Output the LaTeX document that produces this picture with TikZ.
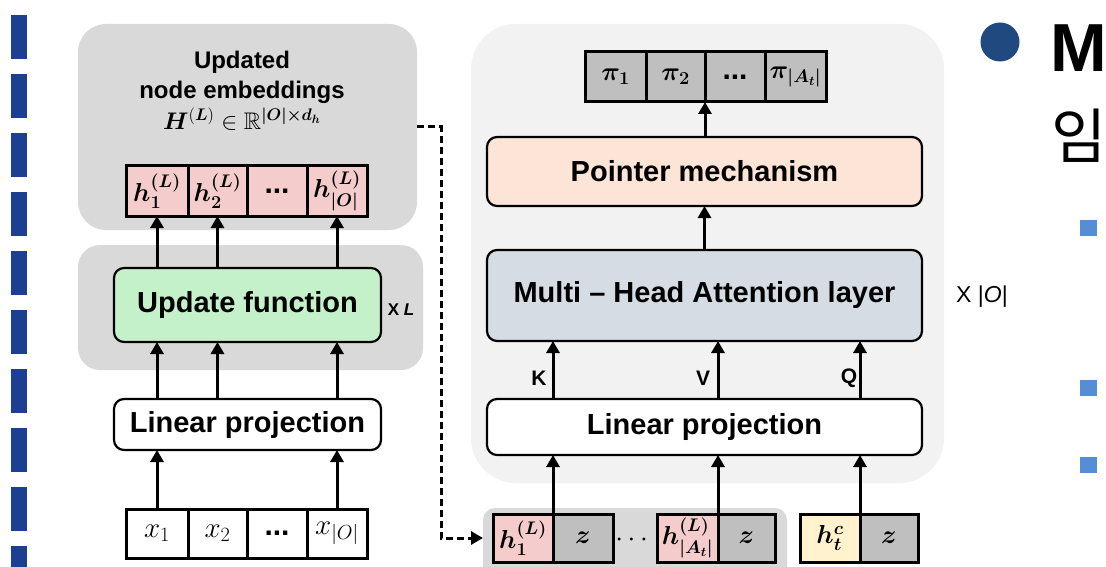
\RequirePackage{fix-cm}
\documentclass[tikz,border=0pt]{standalone}
\usepackage{amsmath,amssymb,bm}
\usepackage[no-math]{fontspec}
\setmainfont{Liberation Sans}
\newfontfamily\krfont{Noto Sans CJK KR}
\usetikzlibrary{arrows.meta}
\definecolor{panelgray}{HTML}{D9D9D9}
\definecolor{panellight}{HTML}{F2F2F2}
\definecolor{cellpink}{HTML}{F4CCCC}
\definecolor{cellgray}{HTML}{BFBFBF}
\definecolor{cellcream}{HTML}{FFF2CC}
\definecolor{ufgreen}{HTML}{C4F0CA}
\definecolor{pmorange}{HTML}{FCE4D6}
\definecolor{mhablue}{HTML}{D6DCE4}
\definecolor{dashblue}{HTML}{1C3F94}
\definecolor{dotblue}{HTML}{204A7F}
\definecolor{sqblue}{HTML}{558ED5}
\tikzset{
  panel/.style={fill=panelgray, draw=none, inner sep=0pt, outer sep=0pt},
  cellbox/.style={draw=black, line width=3pt, inner sep=0pt, outer sep=0pt,
    font=\fontsize{26}{30}\selectfont},
  procbox/.style={draw=black, line width=2.2pt, rounded corners=10pt, inner sep=0pt,
    outer sep=0pt, font=\fontsize{29}{34}\selectfont\bfseries},
  arr/.style={line width=3pt, -{Triangle[length=12pt,width=13pt]}},
  dasharr/.style={line width=3pt, dash pattern=on 7pt off 4pt,
    -{Triangle[length=12pt,width=13pt]}},
  kvq/.style={font=\fontsize{21}{24}\selectfont\bfseries, inner sep=0pt},
}
\begin{document}
\begin{tikzpicture}[x=1pt,y=-1pt]
\useasboundingbox (0,0) rectangle (1106,567);
\clip (0,0) rectangle (1106,567);
\fill[white] (0,0) rectangle (1106,567);
% slide decorations
\foreach \k in {0,...,10} \fill[dashblue] (11,{-44+59*\k}) rectangle (27,{59*\k});
\fill[dotblue] (1000,42) circle[radius=19.5pt];
\node[anchor=base west, inner sep=0pt] (mtitle) at (1050,72) {\fontsize{68}{70}\selectfont\bfseries M};
\node[anchor=base west, inner sep=0pt] (krtitle) at (1051,159) {\krfont\fontsize{60}{64}\selectfont 임};
\fill[sqblue] (1080,220) rectangle (1097,236);
\fill[sqblue] (1080,380) rectangle (1097,396);
\fill[sqblue] (1080,457) rectangle (1097,473);

% ---------------- left part
\node[panel, rounded corners=28pt, minimum width=339pt, minimum height=206pt] (emb) at (247.5,127) {};
\node[panel, rounded corners=22pt, minimum width=345pt, minimum height=125pt] (ufpanel) at (250.5,307.5) {};
\node[align=center, font=\fontsize{24}{30}\selectfont\bfseries, inner sep=0pt] (embtitle) at (242,77) {Updated\\node embeddings};
\node[inner sep=0pt, font=\fontsize{24}{28}\selectfont] (hmath) at (242,119)
  {$\bm{H}^{(\bm{L})} \in \mathbb{R}^{\bm{|O|\times d_h}}$};
\node[cellbox, fill=cellpink, minimum width=62pt, minimum height=50pt] (h1) at (157,191) {$\bm{h_1^{(L)}}$};
\node[cellbox, fill=cellpink, minimum width=59pt, minimum height=50pt] (h2) at (217.5,191) {$\bm{h_2^{(L)}}$};
\node[cellbox, fill=cellpink, minimum width=60pt, minimum height=50pt] (h3) at (277,191) {\fontsize{30}{30}\selectfont\bfseries ...};
\node[cellbox, fill=cellpink, minimum width=60pt, minimum height=50pt] (h4) at (337,191) {$\bm{h_{|O|}^{(L)}}$};
\node[procbox, fill=ufgreen, minimum width=267pt, minimum height=74pt] (uf) at (247.5,305) {Update function};
\node[inner sep=0pt, font=\fontsize{17}{19}\selectfont\bfseries] (xl) at (401,310) {X \textit{L}};
\node[procbox, fill=white, minimum width=267pt, minimum height=51pt] (lp1) at (247.5,424.5) {Linear projection};
\node[cellbox, fill=white, minimum width=62pt, minimum height=49pt, font=\fontsize{29}{32}\selectfont] (x1) at (157,533.5) {$x_1$};
\node[cellbox, fill=white, minimum width=59pt, minimum height=49pt, font=\fontsize{29}{32}\selectfont] (x2) at (217.5,533.5) {$x_2$};
\node[cellbox, fill=white, minimum width=60pt, minimum height=49pt] (x3) at (277,533.5) {\fontsize{30}{30}\selectfont\bfseries ...};
\node[cellbox, fill=white, minimum width=60pt, minimum height=49pt, font=\fontsize{29}{32}\selectfont] (x4) at (337,533.5) {$x_{|O|}$};

\draw[arr] (uf.north -| h1) -- (h1.south);
\draw[arr] (uf.north -| h2) -- (h2.south);
\draw[arr] (uf.north -| h4) -- (h4.south);
\draw[arr] (lp1.north -| h1) -- (uf.south -| h1);
\draw[arr] (lp1.north -| h2) -- (uf.south -| h2);
\draw[arr] (lp1.north -| h4) -- (uf.south -| h4);
\draw[arr] (x1.north) -- (lp1.south -| x1);
\draw[arr] (x4.north) -- (lp1.south -| x4);

% ---------------- right part
\node[panel, fill=panellight, rounded corners=45pt, minimum width=473pt, minimum height=459pt] (rpanel) at (707.5,253.5) {};
\node[cellbox, fill=cellgray, minimum width=61pt, minimum height=50pt] (p1) at (615.5,77) {$\bm{\pi_1}$};
\node[cellbox, fill=cellgray, minimum width=59pt, minimum height=50pt] (p2) at (675.5,77) {$\bm{\pi_2}$};
\node[cellbox, fill=cellgray, minimum width=60pt, minimum height=50pt] (p3) at (735,77) {\fontsize{30}{30}\selectfont\bfseries ...};
\node[cellbox, fill=cellgray, minimum width=61pt, minimum height=50pt] (p4) at (795.5,77) {$\bm{\pi_{|A_t|}}$};
\node[procbox, fill=pmorange, minimum width=435pt, minimum height=69pt] (pm) at (704.5,171.5) {Pointer mechanism};
\node[procbox, fill=mhablue, minimum width=435pt, minimum height=91pt] (mha) at (704.5,295.5) {Multi -- Head Attention layer};
\node[inner sep=0pt, font=\fontsize{23}{26}\selectfont] (xo) at (982,297) {X |\textit{O}|};
\node[procbox, fill=white, minimum width=435pt, minimum height=56pt] (lp2) at (704.5,427) {Linear projection};
\node[panel, rounded corners=12pt, minimum width=304pt, minimum height=72pt] (grp) at (635,544) {};
\node[cellbox, fill=cellpink, minimum width=60pt, minimum height=48pt] (b1) at (523,538) {$\bm{h_1^{(L)}}$};
\node[cellbox, fill=cellgray, minimum width=60pt, minimum height=48pt] (bz1) at (583,538) {$\bm{z}$};
\node[inner sep=0pt, font=\fontsize{28}{30}\selectfont] (bdots) at (634,540) {$\cdots$};
\node[cellbox, fill=cellpink, minimum width=61pt, minimum height=48pt] (bA) at (687.5,538) {$\bm{h_{|A_t|}^{(L)}}$};
\node[cellbox, fill=cellgray, minimum width=57pt, minimum height=48pt] (bzA) at (746.5,538) {$\bm{z}$};
\node[cellbox, fill=cellcream, minimum width=60pt, minimum height=48pt] (bc) at (830,538) {$\bm{h_t^c}$};
\node[cellbox, fill=cellgray, minimum width=58pt, minimum height=48pt] (bzc) at (889,538) {$\bm{z}$};

\draw[arr] (pm.north -| p2.east) -- (p2.south east);
\draw[arr] (mha.north) -- (pm.south);
\draw[arr] (lp2.north -| b1.east) -- (mha.south -| b1.east);
\draw[arr] (lp2.north -| bA.east) -- (mha.south -| bA.east);
\draw[arr] (lp2.north -| bc.east) -- (mha.south -| bc.east);
\draw[arr] (b1.north east) -- (lp2.south -| b1.east);
\draw[arr] (bA.north east) -- (lp2.south -| bA.east);
\draw[arr] (bc.north east) -- (lp2.south -| bc.east);
\node[kvq] (klbl) at (539,378) {K};
\node[kvq] (vlbl) at (703,378) {V};
\node[kvq] (qlbl) at (849,378) {Q};

% dashed connector
\coordinate (dc) at (441,538);
\draw[dasharr] (emb.east) -| (dc) -- (grp.west |- dc);
\end{tikzpicture}
\end{document}
